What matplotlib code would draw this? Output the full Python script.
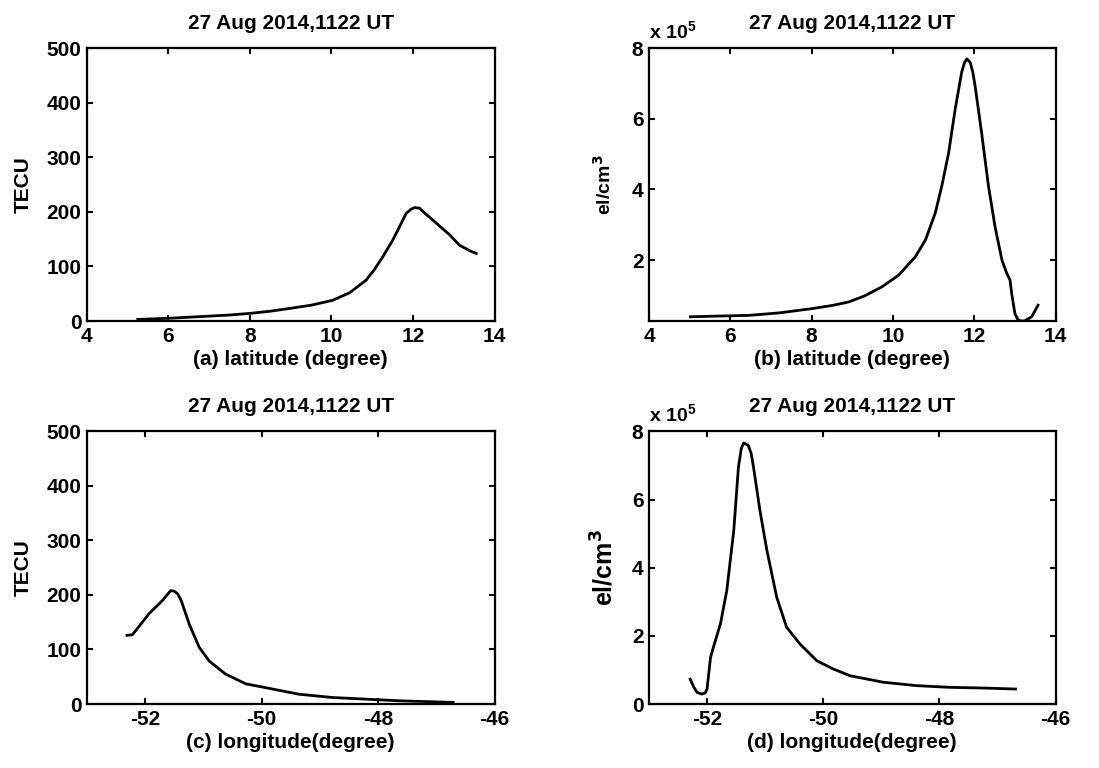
import numpy as np
import matplotlib.pyplot as plt

# (a) TEC vs latitude
lat_tec = [5.25, 6.0, 6.76, 7.5, 8.0, 8.5, 8.97, 9.5, 10.03, 10.45, 10.85, 11.05, 11.26, 11.5,
           11.67, 11.83, 11.95, 12.04, 12.16, 12.3, 12.49, 12.7, 12.9, 13.14, 13.39, 13.55]
tec_lat = [3, 5, 8, 11, 14, 18, 23, 29, 38, 52, 75, 94, 118, 148,
           173, 197, 205, 208, 207, 197, 185, 171, 158, 139, 129, 124]

# (b) electron density vs latitude (x 1e5)
lat_ne = [5.02, 5.7, 6.45, 7.2, 8.0, 8.5, 8.91, 9.3, 9.73, 10.14, 10.55, 10.8, 11.04, 11.2,
          11.37, 11.53, 11.69, 11.76, 11.82, 11.9, 11.96, 12.02, 12.18, 12.35, 12.51, 12.68, 12.8,
          12.88, 12.92, 13.0, 13.08, 13.18, 13.25, 13.41, 13.57]
ne_lat = [0.39, 0.41, 0.43, 0.5, 0.62, 0.71, 0.81, 0.98, 1.24, 1.57, 2.09, 2.57, 3.33, 4.09,
          5.04, 6.27, 7.32, 7.60, 7.70, 7.6, 7.35, 6.94, 5.61, 4.09, 2.95, 2.0, 1.62,
          1.43, 1.05, 0.48, 0.29, 0.27, 0.28, 0.39, 0.72]

# (c) TEC vs longitude
lon_tec = [-52.31, -52.22, -52.15, -51.93, -51.70, -51.56, -51.50, -51.44, -51.38, -51.24, -51.07,
           -50.90, -50.62, -50.27, -49.93, -49.36, -48.79, -48.22, -47.65, -46.71]
tec_lon = [126, 127, 136, 166, 190, 208, 207, 202, 190, 146, 104,
           79, 55, 37, 30, 18, 12, 9, 6, 3]

# (d) electron density vs longitude (x 1e5)
lon_ne = [-52.29, -52.23, -52.17, -52.09, -52.03, -52.0, -51.94, -51.89, -51.77, -51.66, -51.54,
          -51.46, -51.41, -51.37, -51.29, -51.24, -51.2, -51.09, -50.97, -50.8, -50.63, -50.4,
          -50.11, -49.83, -49.54, -48.97, -48.4, -47.83, -47.26, -46.69]
ne_lon = [0.73, 0.50, 0.34, 0.29, 0.33, 0.44, 1.37, 1.67, 2.35, 3.33, 5.09,
          6.95, 7.50, 7.66, 7.59, 7.35, 6.95, 5.68, 4.51, 3.13, 2.25, 1.76,
          1.27, 1.03, 0.83, 0.64, 0.54, 0.49, 0.47, 0.44]

title = '27 Aug 2014,1122 UT'

plt.rcParams['font.family'] = ['Liberation Sans', 'DejaVu Sans']
plt.rcParams['font.weight'] = 'bold'
plt.rcParams['font.size'] = 15
plt.rcParams['axes.unicode_minus'] = False

fig = plt.figure(figsize=(10.99, 7.68), dpi=100)
pos = {
    'a': [0.079, 0.582, 0.371, 0.355],
    'b': [0.5905, 0.582, 0.370, 0.355],
    'c': [0.079, 0.0833, 0.371, 0.355],
    'd': [0.5905, 0.0833, 0.370, 0.355],
}


def style(ax):
    ax.tick_params(direction='in', top=True, right=True, length=4, width=1.5,
                   labelsize=15, pad=4)
    for s in ax.spines.values():
        s.set_linewidth(1.6)
    ax.set_title(title, fontsize=15, fontweight='bold', pad=14)


ax = fig.add_axes(pos['a'])
ax.plot(lat_tec, tec_lat, 'k', lw=2)
ax.set_xlim(4, 14)
ax.set_ylim(0, 500)
ax.set_xticks([4, 6, 8, 10, 12, 14])
ax.set_yticks([0, 100, 200, 300, 400, 500])
ax.set_ylabel('TECU', fontsize=15, fontweight='bold', labelpad=10)
ax.set_xlabel('(a) latitude (degree)', fontsize=15, fontweight='bold', labelpad=3)
style(ax)

ax = fig.add_axes(pos['b'])
ax.plot(lat_ne, ne_lat, 'k', lw=2)
ax.set_xlim(4, 14)
ax.set_ylim(min(ne_lat), 8)
ax.set_xticks([4, 6, 8, 10, 12, 14])
ax.set_yticks([2, 4, 6, 8])
ax.set_ylabel('el/cm$^\\mathbf{3}$', fontsize=14, fontweight='bold', labelpad=12)
ax.set_xlabel('(b) latitude (degree)', fontsize=15, fontweight='bold', labelpad=3)
ax.text(0, 1.02, 'x 10$^\\mathregular{5}$', transform=ax.transAxes, fontsize=14,
        fontweight='bold', ha='left', va='bottom')
style(ax)

ax = fig.add_axes(pos['c'])
ax.plot(lon_tec, tec_lon, 'k', lw=2)
ax.set_xlim(-53, -46)
ax.set_ylim(0, 500)
ax.set_xticks([-52, -50, -48, -46])
ax.set_yticks([0, 100, 200, 300, 400, 500])
ax.set_ylabel('TECU', fontsize=15, fontweight='bold', labelpad=10)
ax.set_xlabel('(c) longitude(degree)', fontsize=15, fontweight='bold', labelpad=3)
style(ax)

ax = fig.add_axes(pos['d'])
ax.plot(lon_ne, ne_lon, 'k', lw=2)
ax.set_xlim(-53, -46)
ax.set_ylim(0, 8)
ax.set_xticks([-52, -50, -48, -46])
ax.set_yticks([0, 2, 4, 6, 8])
ax.set_ylabel('el/cm$^\\mathbf{3}$', fontsize=18, fontweight='bold', labelpad=10)
ax.set_xlabel('(d) longitude(degree)', fontsize=15, fontweight='bold', labelpad=3)
ax.text(0, 1.02, 'x 10$^\\mathregular{5}$', transform=ax.transAxes, fontsize=14,
        fontweight='bold', ha='left', va='bottom')
style(ax)

fig.savefig('out.png', dpi=100)
